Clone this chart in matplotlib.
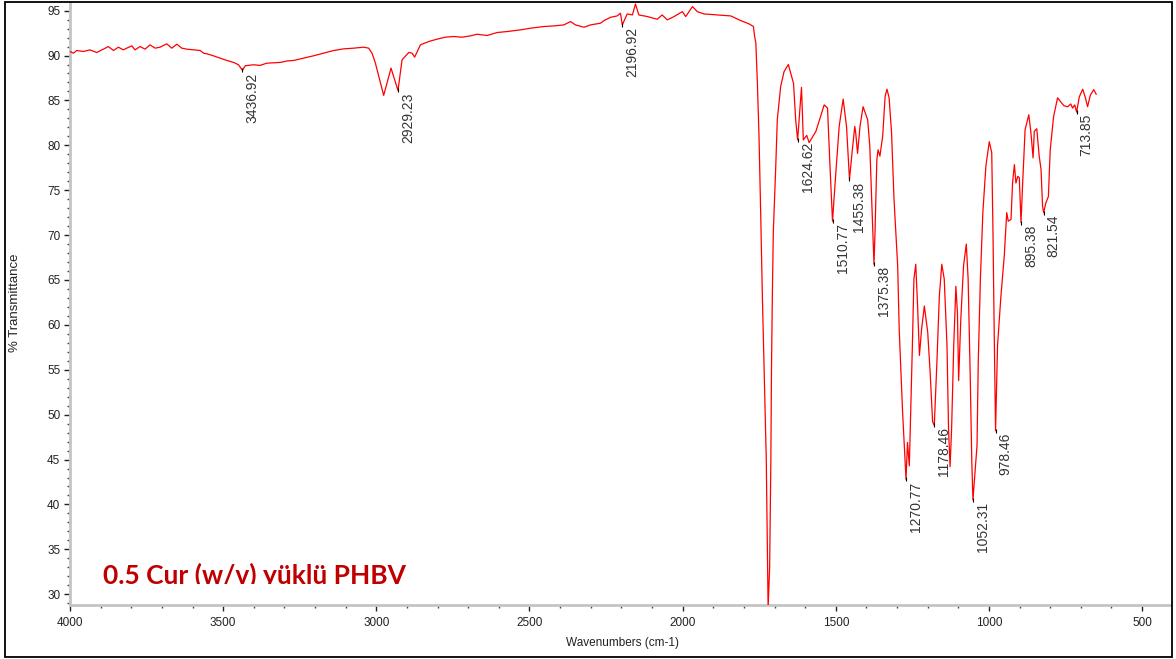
import numpy as np
import matplotlib
matplotlib.use("Agg")
import matplotlib.pyplot as plt
from matplotlib.ticker import MultipleLocator
from matplotlib.patches import Rectangle
from matplotlib.transforms import Bbox, TransformedBbox

# FTIR spectrum: wavenumber (cm-1) and % transmittance
wavenumber = [
    4000, 3989, 3978, 3956, 3935, 3913, 3891, 3875, 3858, 3842, 3826, 3815,
    3798, 3788, 3771, 3755, 3739, 3722, 3706, 3684, 3668, 3651, 3635, 3619,
    3597, 3575, 3564, 3553, 3532, 3510, 3488, 3466, 3450, 3436.92, 3428, 3401,
    3380, 3357, 3314, 3290, 3270, 3237, 3205, 3172, 3139, 3107, 3074, 3041,
    3025, 3014, 3003, 2992, 2976, 2952, 2929.23, 2916, 2894, 2883, 2875, 2856,
    2829, 2802, 2775, 2747, 2720, 2693, 2671, 2638, 2606, 2573, 2529, 2497,
    2453, 2420, 2388, 2366, 2350, 2322, 2301, 2268, 2257, 2235, 2214, 2203,
    2196.92, 2181, 2164, 2154, 2143, 2115, 2083, 2067, 2050, 2028, 2001, 1990,
    1968, 1952, 1930, 1887, 1843, 1810, 1783, 1769, 1765, 1761, 1756, 1751,
    1745, 1740, 1734, 1727, 1724, 1721, 1716, 1712, 1710, 1707, 1704, 1696,
    1691, 1680, 1669, 1655, 1638, 1631, 1624.62, 1612, 1606, 1595, 1587, 1565,
    1538, 1527, 1519, 1510.77, 1500, 1489, 1476, 1465, 1459, 1455.38, 1446,
    1438, 1435, 1429, 1421, 1411, 1396, 1389, 1383, 1375.38, 1372, 1366, 1362,
    1356, 1347, 1339, 1333, 1326, 1318, 1310, 1298, 1293, 1282, 1275, 1270.77,
    1266, 1260, 1250, 1245, 1239, 1233, 1227, 1220, 1211, 1200, 1192, 1184,
    1178.46, 1170, 1162, 1154, 1146, 1137, 1132, 1127, 1122, 1115, 1108, 1103,
    1099, 1092, 1083, 1074, 1068, 1061, 1056, 1052.31, 1046, 1039, 1035, 1028,
    1020, 1010, 999, 991, 987, 983, 978.46, 972, 961, 950, 942, 937, 928, 923,
    917, 912, 906, 901, 895.38, 890, 882, 870, 863, 856, 852, 844, 836, 830,
    825, 821.54, 814, 806, 800, 789, 776, 765, 755, 743, 733, 727, 720, 713.85,
    705, 694, 686, 678, 669, 658, 650,
]
transmittance = [
    90.45, 90.26, 90.56, 90.45, 90.63, 90.34, 90.71, 91.00, 90.56, 90.93, 90.63, 90.82,
    91.08, 90.63, 91.00, 90.71, 91.19, 90.82, 90.93, 91.30, 90.82, 91.26, 90.82, 90.71,
    90.63, 90.56, 90.26, 90.19, 89.97, 89.71, 89.45, 89.23, 88.97, 88.34, 88.86, 88.97,
    88.90, 89.15, 89.23, 89.40, 89.45, 89.71, 89.97, 90.26, 90.56, 90.74, 90.82, 90.93,
    90.82, 90.26, 89.15, 87.67, 85.56, 88.60, 86.11, 89.52, 90.34, 90.26, 89.82, 91.19,
    91.56, 91.82, 92.04, 92.12, 92.04, 92.19, 92.37, 92.23, 92.56, 92.67, 92.86, 93.04,
    93.23, 93.30, 93.41, 93.78, 93.41, 93.15, 93.41, 93.60, 93.89, 94.26, 94.41, 94.71,
    93.41, 94.63, 94.52, 95.74, 94.52, 94.34, 94.04, 94.52, 93.97, 94.34, 94.89, 94.34,
    95.45, 94.89, 94.63, 94.52, 94.41, 93.89, 93.52, 93.23, 92.12, 91.40, 86.90, 81.40,
    72.10, 63.60, 55.00, 45.00, 37.00, 28.50, 33.00, 45.00, 55.00, 63.60, 70.30, 77.70,
    82.85, 86.55, 88.20, 89.00, 86.90, 82.85, 80.60, 86.45, 80.60, 81.10, 80.30, 81.55,
    84.50, 84.15, 77.70, 71.55, 76.90, 82.10, 85.15, 82.10, 78.40, 76.20, 79.50,
    82.10, 81.40, 79.10, 82.10, 84.30, 82.85, 79.90, 74.00, 66.75, 70.30, 78.40, 79.50,
    78.80, 81.00, 85.45, 86.25, 85.30, 81.40, 74.00, 66.55, 59.50, 50.30, 45.50, 42.80,
    46.90, 44.30, 57.70, 65.10, 66.75, 62.10, 56.60, 59.50, 62.10, 59.20, 54.70, 49.20,
    48.80, 55.80, 63.20, 66.75, 65.10, 57.70, 48.40, 44.20, 48.40, 57.70, 64.30, 61.40,
    53.80, 60.60, 66.55, 69.00, 65.10, 54.00, 44.70, 40.50, 43.40, 46.55, 55.80, 65.10,
    72.50, 77.70, 80.40, 79.20, 70.60, 59.50, 48.20, 57.70, 63.20, 67.70, 72.50, 71.55, 71.75, 75.80,
    77.85, 75.80, 76.55, 76.40, 71.40, 75.80, 81.75, 83.40, 81.40, 78.60, 81.55, 81.85, 78.80, 77.30,
    73.20, 72.50, 73.60, 74.30, 79.50, 83.20, 85.30, 84.80, 84.40, 84.30, 84.60, 84.15, 84.50, 83.70,
    85.40, 86.25, 85.40, 84.30, 85.60, 86.20, 85.70,
]

# Labelled absorption bands (cm-1)
peak_wavenumbers = [3436.92, 2929.23, 2196.92, 1624.62, 1510.77, 1455.38, 1375.38,
                    1270.77, 1178.46, 1052.31, 978.46, 895.38, 821.54, 713.85]

x_ticks = [4000, 3500, 3000, 2500, 2000, 1500, 1000, 500]
y_ticks = [30, 35, 40, 45, 50, 55, 60, 65, 70, 75, 80, 85, 90, 95]

sample_title = "0.5 Cur (w/v) yüklü PHBV"
x_title = "Wavenumbers (cm-1)"
y_title = "% Transmittance"

plt.rcParams['font.family'] = ['Liberation Sans', 'DejaVu Sans']

W, H = 1176, 659
fig = plt.figure(figsize=(W / 100, H / 100), dpi=100)
ax = fig.add_axes([70 / W, 1 - 605 / H, 1100 / W, 602 / H])

ax.plot(wavenumber, transmittance, color='#ff0000', lw=0.9, zorder=3)
ax.set_xlim(4000, 409)
ax.set_ylim(28.8, 95.85)

ax.set_xticks(x_ticks)
ax.set_yticks(y_ticks)
ax.xaxis.set_minor_locator(MultipleLocator(100))
ax.yaxis.set_minor_locator(MultipleLocator(1))
ax.tick_params(which='major', direction='out', length=4, width=1, color='#222222',
               labelsize=8.5, labelcolor='#222222', pad=3)
ax.tick_params(which='minor', direction='out', length=2, width=1, color='#444444')
ax.tick_params(axis='x', which='major', pad=5)

for side in ('top', 'right'):
    ax.spines[side].set_visible(False)
for side in ('left', 'bottom'):
    ax.spines[side].set_color('#c4c4c4')
    ax.spines[side].set_linewidth(2)

# band labels and small markers at the band minima
wn_arr = np.array(wavenumber)[::-1]
tr_arr = np.array(transmittance)[::-1]
for w in peak_wavenumbers:
    t = float(np.interp(w, wn_arr, tr_arr))
    ax.plot([w], [t], marker='|', ms=3, mew=0.8, color='black', zorder=4)
    ax.annotate(f"{w:.2f}", xy=(w, t), xytext=(3, -2), textcoords='offset pixels',
                rotation=90, ha='left', va='top', fontsize=10, color='#333333')

fig.text(622 / W, 1 - 643 / H, x_title, ha='center', va='center', fontsize=8.5,
         color='#222222')
fig.text(15 / W, 1 - 303 / H, y_title, ha='center', va='center', rotation=90,
         fontsize=9.5, color='#222222')

title = fig.text(103 / W, 1 - 584 / H, sample_title, ha='left', va='baseline',
                 fontsize=19, fontweight='bold', color='#c00000',
                 family=['Lato', 'DejaVu Sans'])
title.set_clip_box(TransformedBbox(Bbox([[0, 1 - 583.5 / H], [1, 1]]), fig.transFigure))
title.set_clip_on(True)

fig.patches.append(Rectangle((5 / W, 1 - 657 / H), 1167 / W, 655.5 / H,
                             transform=fig.transFigure, fill=False,
                             edgecolor='black', lw=1.3))

fig.savefig('out.png', dpi=100)
